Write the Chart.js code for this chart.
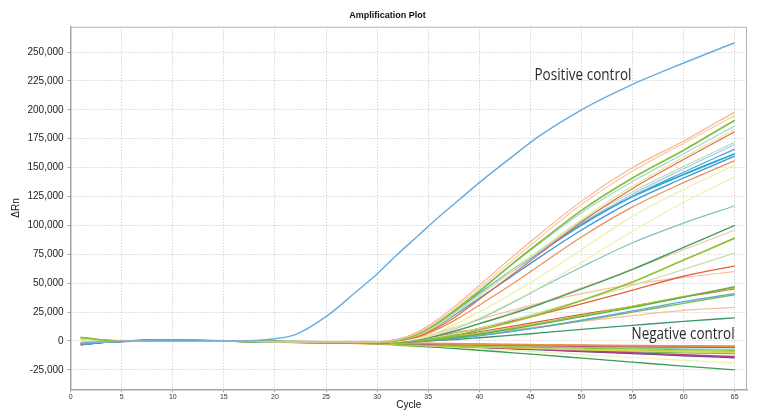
<!DOCTYPE html>
<html>
<head>
<meta charset="utf-8">
<script src="https://cdn.jsdelivr.net/npm/chart.js@4.4.1/dist/chart.umd.min.js"></script>
<style>
  html, body { margin: 0; padding: 0; background: #ffffff; }
  #wrap { width: 757px; height: 412px; position: relative; }
</style>
</head>
<body>
<div id="wrap"><canvas id="c" width="757" height="412"></canvas></div>
<script>
// ---------------- DATA ----------------
const CYCLES = [1,3,5,8,12,16,20,22,25,28,30,32,34,36,38,40,43,46,50,55,60,65];
const X_TICKS = [0,5,10,15,20,25,30,35,40,45,50,55,60,65];
const Y_TICKS = [-25000,0,25000,50000,75000,100000,125000,150000,175000,200000,225000,250000];

// Positive control
const PC  = [-2000,-900,-300,300,200,0,2000,5500,21000,43000,58000,75000,91000,107000,122000,137000,158000,178000,200000,222000,240500,258000];

// Strongly amplifying samples
const A1  = [-1500,-700,-200,300,200,-200,-500,-700,-900,-1000,-800,1500,8000,19000,33000,48000,71000,93000,121000,150000,173000,198000];
const A2  = [-1200,-600,-200,300,200,-200,-500,-700,-900,-1000,-800,1200,7000,17500,31000,45500,68000,90000,118000,147000,171000,195000];
const A3  = [3200,900,0,400,300,-100,-400,-600,-800,-1100,-1000,800,6000,16000,29000,43000,65000,86000,113000,141000,165000,191000];
const A4  = [-1400,-700,-200,300,200,-200,-500,-700,-900,-1000,-900,1000,6500,16500,29500,43500,65000,85000,111000,138000,162000,186000];
const A5  = [2200,600,0,300,200,-200,-500,-700,-900,-1100,-900,700,5000,14000,26000,39000,59000,79000,105000,134000,159000,183000];
const A6  = [-2600,-1000,-300,500,400,-100,-500,-700,-1000,-1200,-1200,300,4000,12000,23000,36000,56000,76000,103000,132000,157000,181000];
const A7  = [1500,400,-100,300,200,-200,-500,-700,-900,-1100,-1000,800,5500,15000,27000,40000,60000,79000,104000,129000,151000,172000];
const A8  = [-2000,-900,-200,300,200,-200,-500,-700,-900,-1000,-1000,900,6000,15500,27500,40500,60000,78000,102000,127000,149000,170000];
const A9  = [-3000,-1200,-300,400,300,-100,-400,-600,-800,-1000,-1000,1000,6000,15000,27000,40000,59000,77000,100000,125000,146000,166000];
const A10 = [-2800,-1100,-300,400,300,-100,-400,-600,-800,-900,-1000,1200,6500,16000,28000,41000,60000,78000,101000,125000,144000,162000];
const A11 = [-3200,-1300,-300,400,300,-100,-500,-700,-900,-1100,-1100,700,5000,13500,25000,37000,55000,73000,96000,121000,141000,160000];
const A12 = [-1800,-800,-200,300,200,-200,-500,-700,-1000,-1200,-1200,200,3500,10500,20000,31000,48000,66000,90000,116000,137000,156000];
const A13 = [1000,200,-100,300,200,-200,-500,-800,-1000,-1200,-1300,0,2500,8000,16000,25000,40000,56000,79000,108000,131000,152000];
const A14 = [800,100,-100,300,200,-200,-600,-800,-1000,-1300,-1300,-300,1800,6000,12500,20000,33000,47000,68000,95000,120000,142000];

// Weaker amplifying samples
const B1  = [-1500,-700,-200,300,200,-200,-500,-700,-1000,-1200,-1200,-200,1500,6000,12000,19000,32000,46000,64000,85000,102000,117000];
const B2  = [-2000,-900,-200,300,200,-200,-500,-700,-1000,-1200,-1200,-300,1200,5000,9500,15000,23000,32000,45000,62000,81000,100000];
const B3  = [-1200,-600,-200,300,200,-200,-500,-700,-900,-1100,-1000,0,2000,5500,10000,15000,24000,33000,46000,62000,79000,96000];
const B4  = [2800,700,0,400,300,-100,-500,-700,-1000,-1300,-1300,-600,500,2500,5500,9500,16000,23500,35000,51000,70000,89000];
const B5  = [1800,500,-100,300,200,-200,-500,-700,-1000,-1200,-1200,-300,1000,3500,7000,11000,18000,25000,35000,48000,62000,76000];
const B6  = [-2500,-1000,-300,500,400,-100,-500,-700,-1000,-1200,-1300,-300,1200,4000,7500,11000,17000,23000,32000,44000,56000,65000];
const B7  = [-1000,-500,-200,300,200,-200,-500,-700,-900,-1000,-1000,500,3000,7500,13000,18500,26000,33000,41000,49000,55000,60000];
const B8  = [2500,600,0,300,200,-200,-600,-800,-1100,-1300,-1400,-800,0,1500,3500,6000,10000,14500,21000,29000,38000,47000];
const B9  = [2000,500,-100,300,200,-200,-600,-800,-1100,-1300,-1400,-600,300,2000,4000,6500,11000,15500,22000,30000,38500,46000];
const B10 = [-2400,-1000,-300,500,400,-100,-500,-800,-1100,-1300,-1400,-500,700,2500,5000,8000,12500,17000,23000,30000,38000,45000];
const B11 = [-3000,-1200,-300,400,300,-100,-500,-800,-1100,-1400,-1500,-900,-200,1000,2500,4500,8000,12000,18000,26000,34000,41000];
const B12 = [2600,700,0,300,200,-200,-600,-900,-1200,-1400,-1500,-800,0,1300,3000,5000,8500,12000,17500,25000,32500,40000];
const B13 = [-1300,-600,-200,300,200,-200,-500,-700,-900,-1100,-1200,-300,800,2500,4500,6500,9500,12500,17000,22000,26500,29000];
const B14 = [-2000,-900,-300,300,200,-200,-600,-900,-1200,-1400,-1500,-1000,-500,500,1500,2800,4800,7000,10000,13500,17000,20000];

// Non-amplifying samples / negative control
const C1  = [-1500,-700,-200,300,200,-200,-600,-800,-1100,-1300,-1500,-1800,-2000,-2300,-2500,-2800,-3000,-3300,-3600,-4000,-4300,-4500];
const C2  = [-3000,-1200,-300,400,300,-100,-600,-900,-1200,-1400,-1600,-1900,-2200,-2500,-2800,-3000,-3300,-3600,-4000,-4400,-4700,-5000];
const C3  = [-2800,-1100,-300,600,400,-100,-600,-900,-1200,-1400,-1600,-2000,-2300,-2600,-2900,-3200,-3600,-4000,-4500,-5000,-5300,-5500];
const C4  = [3000,800,0,400,300,-200,-700,-1000,-1400,-1700,-2000,-2600,-3300,-4000,-4500,-4800,-5200,-5600,-6200,-6900,-7500,-8000];
const C5  = [2500,700,-100,300,200,-300,-800,-1100,-1500,-1900,-2200,-3000,-3800,-4500,-5000,-5400,-6000,-6700,-7600,-8600,-9400,-10000];
const C6  = [-3000,-1200,-300,500,300,-200,-700,-1000,-1400,-1700,-2000,-2600,-3200,-3800,-4500,-5200,-6200,-7200,-8600,-10300,-12000,-13500];
const C7  = [-3200,-1300,-300,400,300,-200,-700,-1000,-1400,-1800,-2100,-2700,-3300,-4000,-4700,-5400,-6500,-7600,-9000,-10800,-12700,-14500];
const C8  = [1200,300,-100,300,200,-300,-800,-1200,-1600,-1900,-2000,-2800,-3700,-4600,-5600,-6600,-8100,-9600,-11600,-14300,-16800,-19000];
const C9  = [-2000,-900,-300,300,200,-300,-900,-1300,-1700,-2000,-2200,-3200,-4300,-5500,-6800,-8000,-10000,-12000,-14800,-18300,-21800,-25000];
const C10 = [-1500,-700,-200,300,200,-200,-600,-900,-1200,-1500,-1700,-2100,-2500,-2900,-3300,-3700,-4300,-4900,-5600,-6300,-6700,-7000];
const C11 = [2800,700,0,300,200,-300,-800,-1100,-1500,-1800,-2100,-2800,-3500,-4200,-4900,-5500,-6300,-7100,-8200,-9400,-10300,-11000];
const C12 = [2000,500,-100,300,200,-300,-900,-1200,-1700,-2300,-2800,-3800,-4800,-5600,-6000,-6200,-6500,-7000,-7600,-8200,-8600,-9000];

// ---------------- STYLES ----------------
const SERIES = [
  [PC,'#6aaee0',1.5],
  [A1,'#f6b68a',1.2],[A2,'#f8cba8',1.2],[A3,'#86c03a',1.8],[A4,'#a6d6d0',1.2],[A5,'#dfe8a4',1.2],
  [A6,'#e56a45',1.2],[A7,'#bcdcb0',1.2],[A8,'#9fcbe6',1.2],[A9,'#4ea3db',1.3],[A10,'#25a8cc',1.8],
  [A11,'#3c95d2',1.3],[A12,'#ec8f55',1.2],[A13,'#eceea6',1.2],[A14,'#f0f0b4',1.2],
  [B1,'#7fc4bb',1.2],[B2,'#3f9e64',1.4],[B3,'#f7caa9',1.2],[B4,'#93bf2e',1.7],[B5,'#c8e0a8',1.2],
  [B6,'#e3613f',1.3],[B7,'#f6c1a0',1.2],[B8,'#5fae4c',1.3],[B9,'#a8cb35',1.5],[B10,'#e2553e',1.2],
  [B11,'#5aa8dc',1.3],[B12,'#78bd49',1.3],[B13,'#f5bda0',1.2],[B14,'#3c9868',1.3],
  [C1,'#f0903c',1.8],[C2,'#8e6fb0',1.8],[C3,'#e23b3b',1.4],[C4,'#8cc63f',1.3],[C5,'#d8d84a',1.3],
  [C6,'#b83c8c',1.6],[C7,'#5e4b8e',1.5],[C8,'#efefb0',1.2],[C9,'#3f9b5c',1.3],[C10,'#8fd0c8',1.2],
  [C11,'#6bb855',1.2],[C12,'#b6cf3a',1.3]
];

const FONT = "'Liberation Sans', Arial, sans-serif";

const datasets = SERIES.map(([vals, color, w]) => ({
  data: CYCLES.map((c, i) => ({ x: c, y: vals[i] })),
  borderColor: color,
  borderWidth: w,
  pointRadius: 0,
  fill: false,
  cubicInterpolationMode: 'monotone'
}));

const textPlugin = {
  id: 'texts',
  afterDraw(chart) {
    const ctx = chart.ctx;
    const a = chart.chartArea;
    const xs = chart.scales.x, ys = chart.scales.y;
    ctx.save();
    // plot frame (top / right)
    ctx.strokeStyle = '#b4b4b4';
    ctx.lineWidth = 1;
    ctx.beginPath();
    ctx.moveTo(a.left, a.top + 0.5); ctx.lineTo(a.right, a.top + 0.5);
    ctx.moveTo(a.right - 0.5, a.top); ctx.lineTo(a.right - 0.5, a.bottom);
    ctx.stroke();
    // chart title
    ctx.fillStyle = '#111';
    ctx.font = "bold 9px " + FONT;
    ctx.textAlign = 'center';
    ctx.textBaseline = 'middle';
    ctx.fillText('Amplification Plot', 387.5, 15.5);
    // annotations
    const drawFit = (txt, cx, vy, width) => {
      ctx.font = "16px 'Open Sans', sans-serif";
      ctx.textAlign = 'left';
      ctx.textBaseline = 'alphabetic';
      ctx.fillStyle = '#2a2a2a';
      const m = ctx.measureText(txt).width;
      const px = xs.getPixelForValue(cx), py = ys.getPixelForValue(vy);
      ctx.save();
      ctx.translate(px, py);
      ctx.scale(width / m, 1);
      ctx.fillText(txt, 0, 0);
      ctx.restore();
    };
    drawFit('Positive control', 45.4, 226000, 97);
    drawFit('Negative control', 54.9, 1300, 103);
    ctx.restore();
  }
};

new Chart(document.getElementById('c'), {
  type: 'line',
  data: { datasets },
  options: {
    responsive: false,
    animation: false,
    devicePixelRatio: 1,
    layout: { padding: { top: 26.7, right: 10, bottom: 0, left: 0 } },
    plugins: { legend: { display: false }, tooltip: { enabled: false }, title: { display: false } },
    scales: {
      x: {
        type: 'linear',
        min: 0, max: 66.2,
        afterFit: s => { s.height = 22.7; },
        afterBuildTicks: s => { s.ticks = X_TICKS.map(v => ({ value: v })); },
        ticks: { stepSize: 5, includeBounds: false, autoSkip: false, maxRotation: 0, padding: 1,
                 color: '#333', font: { family: FONT, size: 7 } },
        grid: { color: '#c4c4c4', lineWidth: 1, tickLength: 3, tickColor: '#a0a0a0', tickBorderDash: [] },
        border: { display: true, color: '#a3a3a3', width: 1.5, dash: [1, 2] },
        title: { display: true, text: 'Cycle', color: '#111', font: { family: FONT, size: 10 },
                 padding: { top: 0, bottom: 0.5 } }
      },
      y: {
        min: -41800, max: 271900,
        afterFit: s => { s.width = 70.6; },
        afterBuildTicks: s => { s.ticks = Y_TICKS.map(v => ({ value: v })); },
        ticks: { stepSize: 25000, includeBounds: false, padding: 4, color: '#222',
                 font: { family: FONT, size: 10 },
                 callback: v => Number(v).toLocaleString('en-US') },
        grid: { color: '#c4c4c4', lineWidth: 1, tickLength: 3, tickColor: '#a0a0a0', tickBorderDash: [] },
        border: { display: true, color: '#a3a3a3', width: 1.5, dash: [1, 2] },
        title: { display: true, text: 'ΔRn', color: '#111', font: { family: FONT, size: 10 },
                 padding: { top: 10.7, bottom: 0 } }
      }
    }
  },
  plugins: [textPlugin]
});
</script>
</body>
</html>
